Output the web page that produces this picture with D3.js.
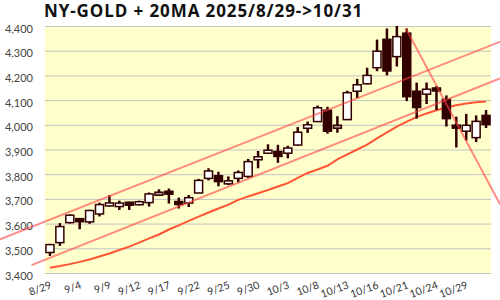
<!DOCTYPE html>
<html>
<head>
<meta charset="utf-8">
<script src="https://cdn.jsdelivr.net/npm/d3@7"></script>
<style>
  body { margin: 0; background: #fff; }
  svg { display: block; }
</style>
</head>
<body>
<svg id="chart" width="500" height="300"></svg>
<script>
// trading days shown on the chart
const dates = ["8/29","9/2","9/3","9/4","9/5","9/8","9/9","9/10","9/11","9/12",
  "9/15","9/16","9/17","9/18","9/19","9/22","9/23","9/24","9/25","9/26",
  "9/29","9/30","10/1","10/2","10/3","10/6","10/7","10/8","10/9","10/10",
  "10/13","10/14","10/15","10/16","10/17","10/20","10/21","10/22","10/23","10/24",
  "10/27","10/28","10/29","10/30","10/31"];

const open  = [3483,3523,3604,3618,3607,3639,3672,3669,3683,3677,3685,3721,3729,3689,3683,
  3724,3783,3794,3762,3783,3791,3859,3886,3892,3885,3918,3986,4013,4059,3992,
  4021,4136,4166,4231,4346,4276,4371,4136,4124,4147,4103,3998,3974,3948,4038];
const high  = [3518,3602,3637,3621,3656,3685,3715,3693,3688,3693,3726,3739,3742,3705,3716,
  3781,3824,3810,3791,3815,3862,3894,3921,3919,3915,3991,4013,4078,4073,4035,
  4138,4186,4231,4345,4390,4400,4390,4171,4171,4157,4119,4033,4044,4038,4060];
const low   = [3469,3510,3600,3577,3599,3629,3669,3655,3655,3674,3669,3713,3681,3661,3667,
  3723,3775,3751,3756,3767,3785,3824,3884,3846,3864,3915,3967,4011,3964,3968,
  4019,4108,4164,4217,4200,4236,4096,4025,4084,4060,3993,3908,3936,3930,3987];
const close = [3515,3588,3634,3610,3653,3677,3683,3683,3678,3688,3720,3721,3721,3678,3705,
  3775,3813,3770,3772,3807,3851,3870,3896,3872,3906,3970,4000,4069,3974,3992,
  4130,4162,4200,4298,4218,4357,4114,4070,4144,4139,4025,3987,3998,4014,4001];

// 20-day moving average as drawn
const ma20 = [3421,3428,3436,3445,3455,3467,3479,3493,3507,3523,3540,3556,3576,3593,3611,
  3628,3645,3661,3677,3696,3710,3723,3736,3750,3764,3785,3805,3819,3834,3860,
  3880,3900,3920,3945,3969,3993,4013,4031,4046,4059,4070,4079,4086,4091,4094];

// hand-drawn trend lines: [day index, price] end points
const trendLines = [
  [[-5.04, 3536], [45.4, 4336]],
  [[-1.85, 3432], [45.4, 4188]],
  [[35.9, 4391], [45.4, 3679]]
];

const yTicks = d3.range(3400, 4401, 100);
const xTicks = d3.range(0, dates.length, 3);

const title = "NY-GOLD + 20MA 2025/8/29->10/31";

const svg = d3.select("#chart");
const plot = { left: 45, right: 491, top: 26, bottom: 273 };

const x = d3.scaleLinear().domain([-0.5, dates.length - 0.5]).range([plot.left, plot.right]);
const y = d3.scaleLinear().domain([3400, 4400]).range([plot.bottom, plot.top]);
const bodyW = 8;

svg.append("rect")
  .attr("x", plot.left).attr("y", plot.top)
  .attr("width", plot.right - plot.left).attr("height", plot.bottom - plot.top)
  .attr("fill", "#ffffcc");

// grid + y labels
const yAxis = svg.append("g")
  .attr("transform", "translate(" + plot.left + ",0)")
  .call(d3.axisLeft(y).tickValues(yTicks).tickFormat(d3.format(",")).tickSize(-(plot.right - plot.left)).tickPadding(12));
yAxis.select(".domain").remove();
yAxis.selectAll(".tick line").attr("stroke", "#c4c4c4").attr("stroke-width", 1);
yAxis.selectAll(".tick text")
  .attr("font-family", "Lato, sans-serif").attr("font-size", 11)
  .attr("fill", "#444").attr("dy", "0.55em");

// x labels
const xAxis = svg.append("g")
  .attr("transform", "translate(0," + plot.bottom + ")")
  .call(d3.axisBottom(x).tickValues(xTicks).tickFormat((i) => dates[i]).tickSize(0));
xAxis.select(".domain").remove();
xAxis.selectAll(".tick text")
  .attr("font-family", "Lato, sans-serif").attr("font-size", 10.5)
  .attr("fill", "#333")
  .attr("text-anchor", "end")
  .attr("transform", "translate(1,13) rotate(-20)")
  .attr("y", 0).attr("dy", "0.2em");

// moving average
svg.append("path")
  .datum(ma20)
  .attr("fill", "none")
  .attr("stroke", "#ff5533")
  .attr("stroke-width", 2)
  .attr("d", d3.line().x((d, i) => x(i)).y((d) => y(d)));

// candles
const candles = svg.append("g")
  .selectAll("g")
  .data(dates.map((d, i) => i))
  .enter()
  .append("g");

candles.append("line")
  .attr("x1", (i) => x(i)).attr("x2", (i) => x(i))
  .attr("y1", (i) => y(high[i])).attr("y2", (i) => y(low[i]))
  .attr("stroke", "#330000").attr("stroke-width", 2.5);

candles.append("rect")
  .attr("x", (i) => x(i) - bodyW / 2)
  .attr("width", bodyW)
  .attr("y", (i) => {
    const h = Math.abs(y(open[i]) - y(close[i]));
    const t = y(Math.max(open[i], close[i]));
    return h < 3 ? t - (3 - h) / 2 : t;
  })
  .attr("height", (i) => Math.max(3, Math.abs(y(open[i]) - y(close[i]))))
  .attr("fill", (i) => close[i] > open[i] ? "#ffffff" : close[i] < open[i] ? "#330000" : "#b09a96")
  .attr("stroke", "#330000")
  .attr("stroke-width", 1.5);

// trend lines
svg.append("g")
  .selectAll("line")
  .data(trendLines)
  .enter()
  .append("line")
  .attr("x1", (d) => x(d[0][0])).attr("y1", (d) => y(d[0][1]))
  .attr("x2", (d) => x(d[1][0])).attr("y2", (d) => y(d[1][1]))
  .attr("stroke", "#ff4040")
  .attr("stroke-opacity", 0.6)
  .attr("stroke-width", 2);

svg.append("text")
  .attr("x", 44).attr("y", 17)
  .attr("font-family", "'Open Sans', sans-serif")
  .attr("font-weight", "bold")
  .attr("font-size", 17)
  .attr("letter-spacing", 0.9)
  .attr("fill", "#111")
  .text(title);
</script>
</body>
</html>
